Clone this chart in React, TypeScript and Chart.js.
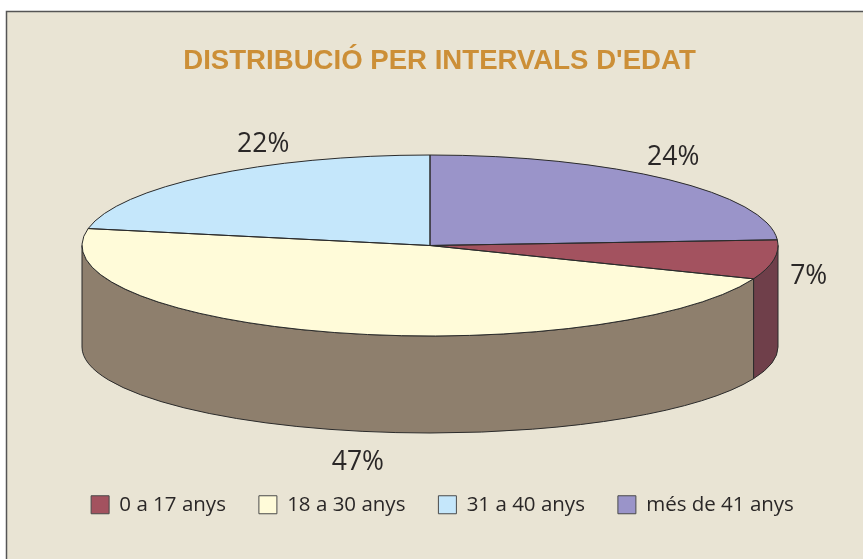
import React, { useEffect, useRef } from "react";
import { Chart, registerables } from "chart.js";

Chart.register(...registerables);

const chartTitle = "DISTRIBUCIÓ PER INTERVALS D'EDAT";
const categories = ["0 a 17 anys", "18 a 30 anys", "31 a 40 anys", "més de 41 anys"];
const shares = [7, 47, 22, 24];
const sliceColors = ["#A3525F", "#FFFBD9", "#C5E7FB", "#9A94C9"];
const sideColors = ["#6F3F4A", "#8E7F6D", "#8E7F6D", "#8E7F6D"];
const labelNudges = [[35, 17], [25, 130], [55, -31], [5, -22]];

const FONT = "'Open Sans', sans-serif";
const INK = "#2A2727";
const EDGE = "#2B2B2B";
const PAPER = "#E9E4D4";
const CX = 430;
const CY = 245.5;
const RX = 348;
const RY = 90.5;
const SIDE_DROP = 101.5;
const SIDE_RY = 86;

const pie3d = {
  id: "pie3d",
  afterLayout(chart: any) {
    chart.titleBlock.left -= 6;
  },
  beforeDraw(chart: any) {
    const { ctx, width, height } = chart;
    ctx.save();
    ctx.fillStyle = "#FFFFFF";
    ctx.fillRect(0, 0, width, height);
    ctx.fillStyle = PAPER;
    ctx.strokeStyle = "#555555";
    ctx.lineWidth = 1.5;
    ctx.fillRect(6.5, 11.5, width, height);
    ctx.strokeRect(6.5, 11.5, width + 10, height + 10);
    ctx.restore();
  },
  beforeDatasetsDraw(chart: any) {
    const { ctx } = chart;
    const arcs = chart.getDatasetMeta(0).data;
    ctx.save();
    ctx.lineWidth = 1;
    ctx.strokeStyle = EDGE;
    arcs.forEach((arc: any, i: number) => {
      const a = Math.max(arc.startAngle, 0);
      const b = Math.min(arc.endAngle, Math.PI);
      if (b <= a) return;
      ctx.beginPath();
      ctx.ellipse(CX, CY, RX, RY, 0, a, b);
      ctx.ellipse(CX, CY + SIDE_DROP, RX, SIDE_RY, 0, b, a, true);
      ctx.closePath();
      ctx.fillStyle = sideColors[i];
      ctx.fill();
      ctx.stroke();
    });
    ctx.restore();
    const first = arcs[0];
    const sx = RX / first.outerRadius;
    const sy = RY / first.outerRadius;
    ctx.save();
    ctx.transform(sx, 0, 0, sy, CX - first.x * sx, CY - first.y * sy);
  },
  afterDatasetsDraw(chart: any) {
    const { ctx } = chart;
    ctx.restore();
    const arcs = chart.getDatasetMeta(0).data;
    ctx.save();
    ctx.lineWidth = 1;
    ctx.strokeStyle = EDGE;
    arcs.forEach((arc: any) => {
      ctx.beginPath();
      ctx.moveTo(CX, CY);
      ctx.ellipse(CX, CY, RX, RY, 0, arc.startAngle, arc.endAngle);
      ctx.closePath();
      ctx.stroke();
    });
    ctx.fillStyle = INK;
    ctx.font = `26.5px ${FONT}`;
    ctx.textAlign = "center";
    ctx.textBaseline = "middle";
    arcs.forEach((arc: any, i: number) => {
      const mid = (arc.startAngle + arc.endAngle) / 2;
      const x = CX + RX * Math.cos(mid) + labelNudges[i][0];
      const y = CY + RY * Math.sin(mid) + labelNudges[i][1];
      ctx.fillText(`${shares[i]}%`, x, y);
    });
    ctx.restore();
  },
};

export default function App() {
  const ref = useRef<HTMLCanvasElement | null>(null);
  useEffect(() => {
    document.body.style.margin = "0";
    document.body.style.background = "#FFFFFF";
    const chart = new Chart(ref.current as HTMLCanvasElement, {
      type: "pie",
      data: {
        labels: categories,
        datasets: [
          {
            data: shares,
            backgroundColor: sliceColors,
            borderWidth: 0,
            clip: false,
          } as any,
        ],
      },
      options: {
        responsive: false,
        animation: false,
        rotation: (shares[3] / 100) * 360,
        layout: { padding: { left: 22, right: 0, top: 43, bottom: 34 } },
        plugins: {
          tooltip: { enabled: false },
          title: {
            display: true,
            text: chartTitle,
            color: "#CC8F37",
            font: { family: "'Liberation Sans', sans-serif", size: 27.6, weight: "bold" },
            padding: { top: 2, bottom: 10 },
          },
          legend: {
            position: "bottom",
            labels: {
              boxWidth: 18,
              boxHeight: 18,
              padding: 33,
              color: INK,
              font: { family: FONT, size: 20.5 },
              generateLabels: (c: any) =>
                c.data.labels.map((text: string, index: number) => ({
                  text,
                  index,
                  fillStyle: sliceColors[index],
                  strokeStyle: "#4A4A4A",
                  lineWidth: 1,
                  fontColor: INK,
                  hidden: false,
                })),
            },
          },
        },
      } as any,
      plugins: [pie3d],
    });
    return () => chart.destroy();
  }, []);
  return <canvas ref={ref} width={863} height={559} style={{ display: "block" }} />;
}
